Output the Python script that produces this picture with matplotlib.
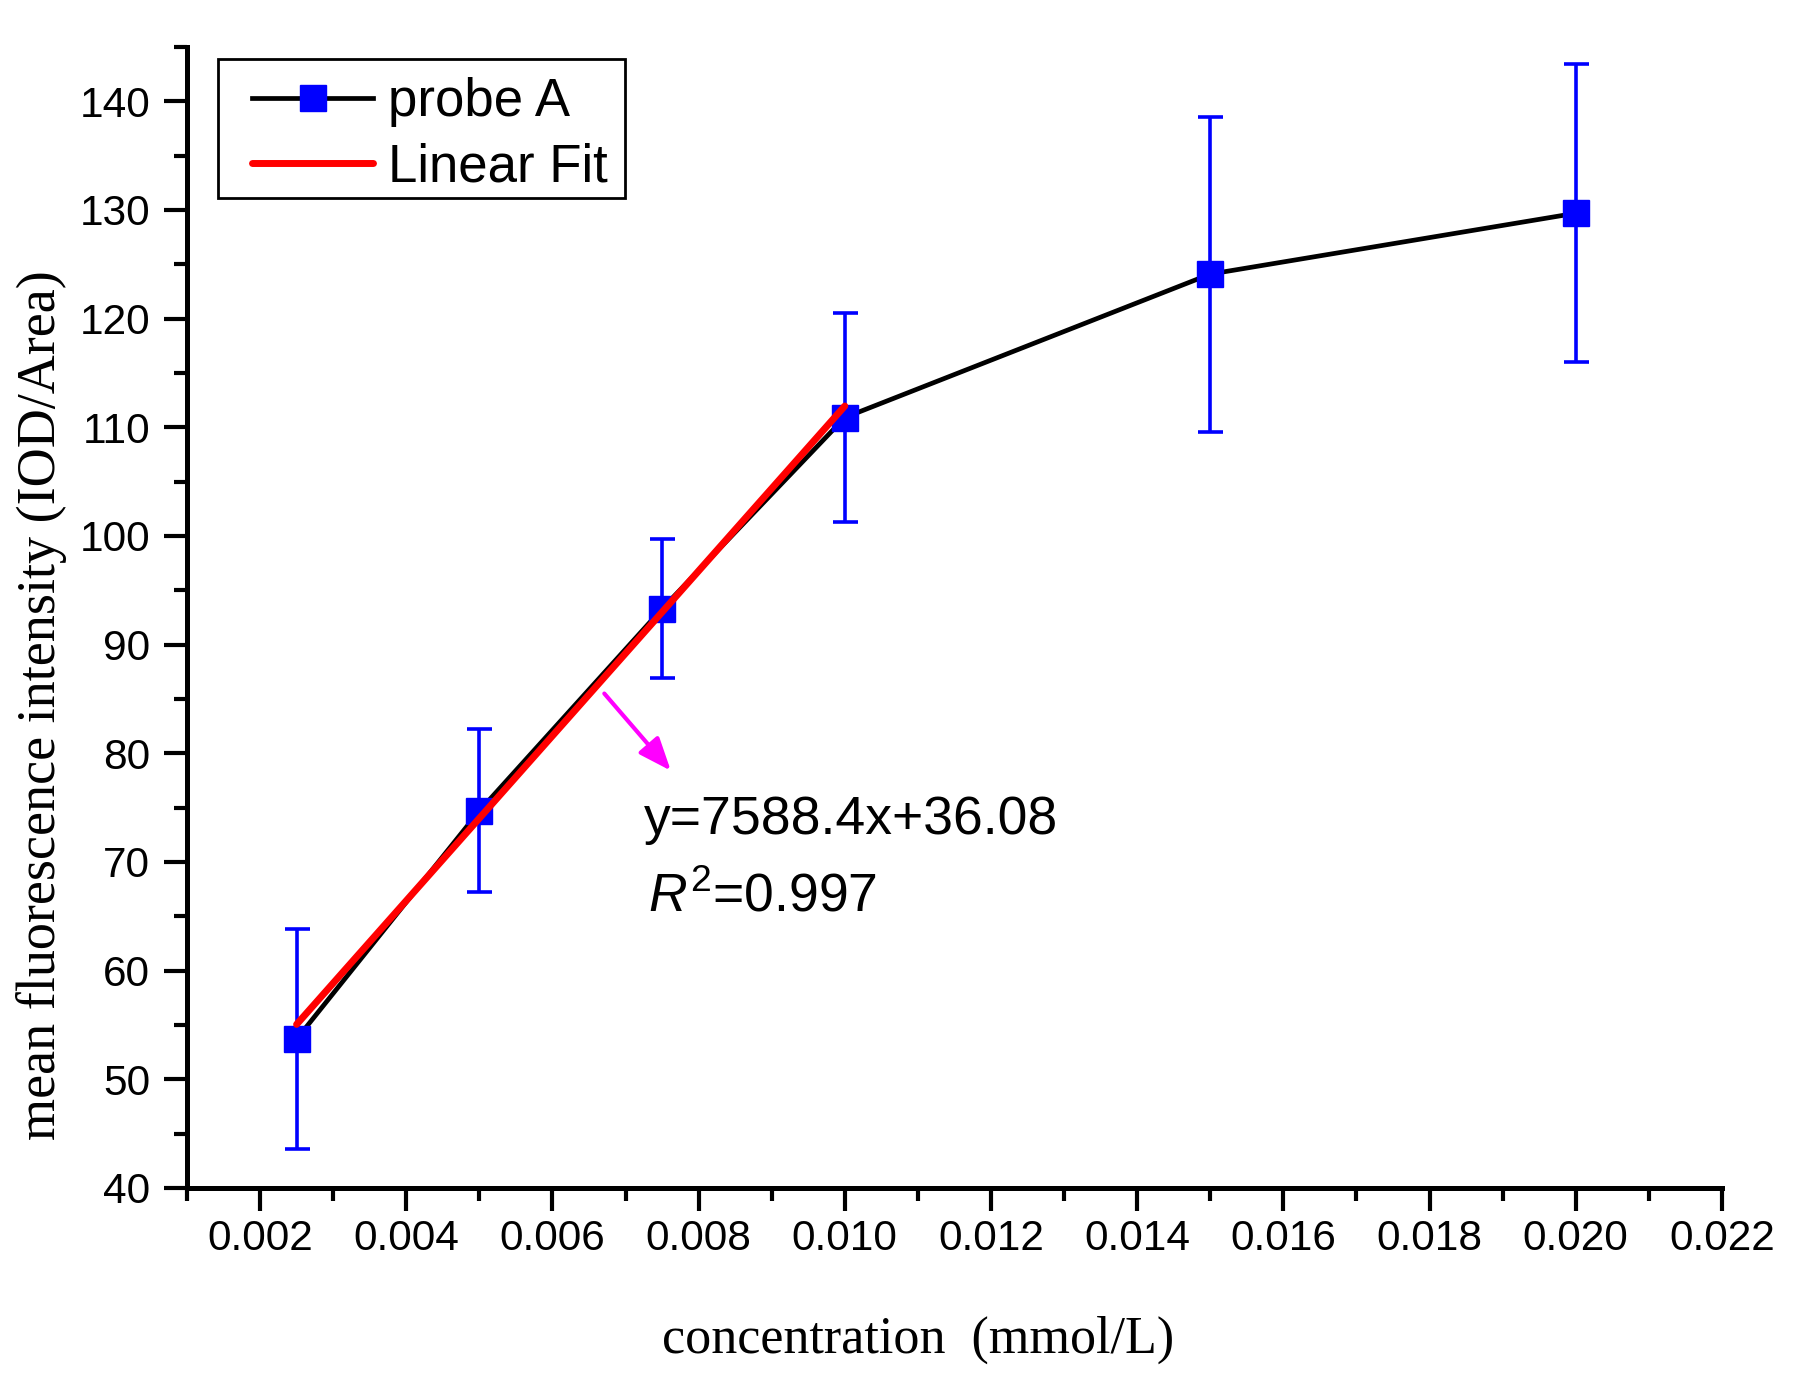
import matplotlib
matplotlib.use("Agg")
import matplotlib.pyplot as plt
from matplotlib.patches import Rectangle
from matplotlib.ticker import MultipleLocator, FormatStrFormatter

# probe A data
conc = [0.0025, 0.005, 0.0075, 0.010, 0.015, 0.020]
mean_int = [53.7, 74.7, 93.3, 110.9, 124.1, 129.7]
err = [10.1, 7.5, 6.4, 9.6, 14.5, 13.7]

# linear fit over the first four points
fit_x = [0.0025, 0.010]
fit_y = [55.05, 111.96]
fit_eq = "y=7588.4x+36.08"
fit_r2 = r"$R^2$=0.997"

plt.rcParams['font.family'] = ['Liberation Sans', 'DejaVu Sans']
plt.rcParams['mathtext.fontset'] = 'custom'
plt.rcParams['mathtext.rm'] = 'Liberation Sans'
plt.rcParams['mathtext.it'] = 'Liberation Sans:italic'

fig = plt.figure(figsize=(18.01, 13.74), dpi=100)
ax = fig.add_axes([0.1038, 0.1354, 0.8523, 0.8304])

# black line with blue squares
ax.plot(conc, mean_int, color='black', lw=3.4, marker='s', ms=18.5,
        mfc='blue', mec='blue', zorder=2, label='probe A')
ax.errorbar(conc, mean_int, yerr=err, fmt='none', ecolor='blue',
            elinewidth=2.6, capsize=9, capthick=2.6, zorder=2.5)
ax.plot(fit_x, fit_y, color='red', lw=5, solid_capstyle='round',
        zorder=3, label='Linear Fit')

# arrow + equation
ax.annotate('', xy=(0.00762, 78.4), xytext=(0.00671, 85.5),
            arrowprops=dict(arrowstyle='-|>,head_length=0.5,head_width=0.2',
                            color='magenta', lw=3, mutation_scale=40,
                            shrinkA=0, shrinkB=0))
ax.text(0.00725, 72.6, fit_eq, fontsize=38.5, va='baseline', ha='left')
ax.text(0.00731, 65.4, fit_r2, fontsize=38.5, va='baseline', ha='left')

ax.set_xlim(0.001, 0.022)
ax.set_ylim(40, 145)
ax.xaxis.set_major_locator(MultipleLocator(0.002))
ax.xaxis.set_minor_locator(MultipleLocator(0.001))
ax.xaxis.set_major_formatter(FormatStrFormatter('%.3f'))
ax.yaxis.set_major_locator(MultipleLocator(10))
ax.yaxis.set_minor_locator(MultipleLocator(5))

for s in ['top', 'right']:
    ax.spines[s].set_visible(False)
for s in ['left', 'bottom']:
    ax.spines[s].set_linewidth(3.6)

ax.tick_params(which='major', direction='out', length=16.5, width=3, labelsize=30.5)
ax.tick_params(which='minor', direction='out', length=9.4, width=3)
ax.tick_params(axis='x', which='major', pad=6)
ax.tick_params(axis='y', which='major', pad=10)

# axis titles (serif, as in the original)
fig.text(55 / 1801, 1 - 705 / 1374, 'mean fluorescence intensity (IOD/Area)',
         family='Liberation Serif', fontsize=39, rotation=90,
         rotation_mode='anchor', ha='center', va='baseline')
fig.text(918 / 1801, 1 - 1353 / 1374, 'concentration  (mmol/L)',
         family='Liberation Serif', fontsize=37.5, ha='center', va='baseline')

# legend: Origin-style box drawn separately so the padding matches
ax.add_patch(Rectangle((0.0202, 0.8677), 0.2651, 0.1218, transform=ax.transAxes,
                       facecolor='white', edgecolor='black', lw=2,
                       clip_on=False, zorder=4.9))
leg = ax.legend(loc='upper left', bbox_to_anchor=(0.0423, 0.9737),
                borderaxespad=0, fontsize=38, handlelength=2.3,
                handletextpad=0.28, borderpad=0, labelspacing=0.29,
                frameon=False)
leg.set_zorder(5)

fig.savefig('out.png', dpi=100)
